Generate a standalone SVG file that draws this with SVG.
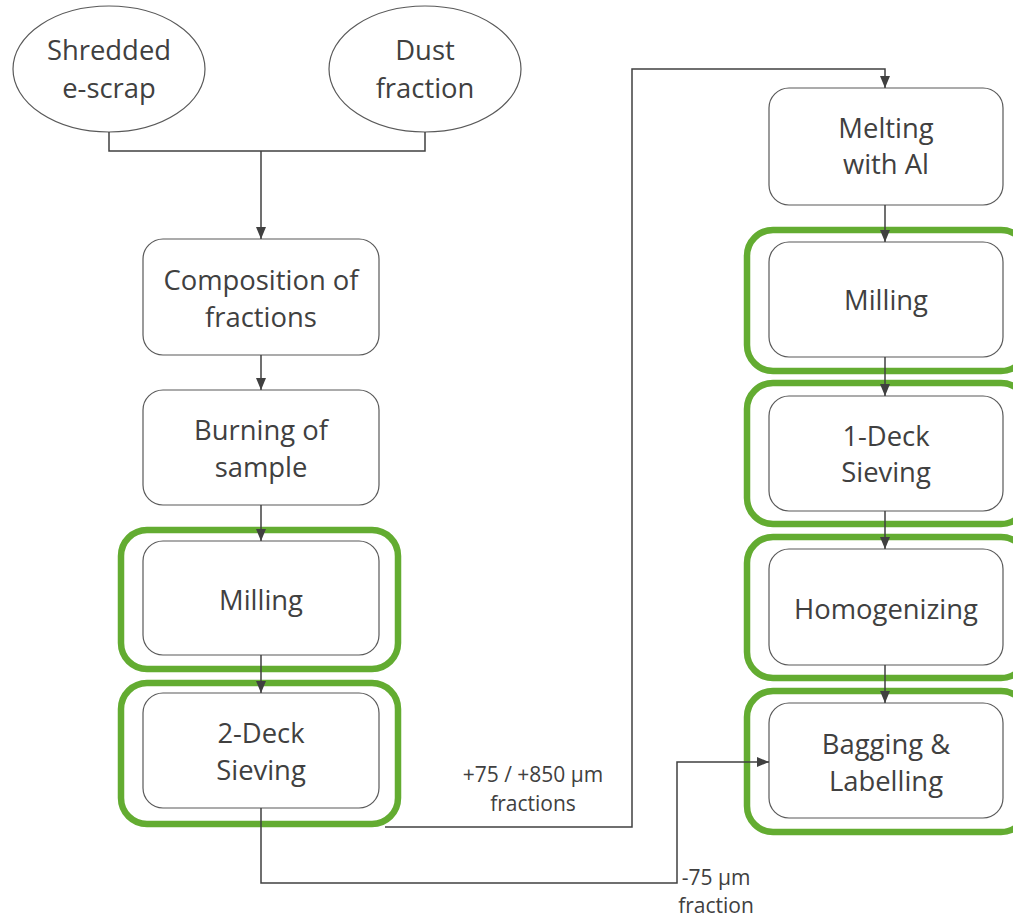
<svg xmlns="http://www.w3.org/2000/svg" width="1013" height="917" viewBox="0 0 1013 917">
<defs>
<marker id="arr" viewBox="0 0 12 10" refX="12" refY="5" markerWidth="12" markerHeight="10" markerUnits="userSpaceOnUse" orient="auto">
<path d="M0,0 L12,5 L0,10 Z" fill="#404040"/>
</marker>
<style>
.box{fill:#fff;stroke:#595959;stroke-width:1.2}
.hl{fill:none;stroke:#63AC31;stroke-width:6.5}
.t{font-family:"Open Sans","Liberation Sans",sans-serif;font-size:27.4px;fill:#404040;text-anchor:middle}
.lb{font-family:"Open Sans","Liberation Sans",sans-serif;font-size:21px;fill:#404040;text-anchor:middle}
.c{fill:none;stroke:#404040;stroke-width:1.5}
</style>
</defs>
<rect width="1013" height="917" fill="#fff"/>

<g id="n-shredded"><ellipse class="box" cx="109" cy="69" rx="96" ry="63"/><text class="t" x="109" y="60">Shredded</text><text class="t" x="109" y="98">e-scrap</text></g>
<g id="n-dust"><ellipse class="box" cx="425" cy="69" rx="96" ry="63"/><text class="t" x="425" y="60">Dust</text><text class="t" x="425" y="98">fraction</text></g>
<g id="n-composition"><rect class="box" x="143" y="239" width="236" height="116" rx="20"/><text class="t" x="261" y="290">Composition of</text><text class="t" x="261" y="327">fractions</text></g>
<g id="n-burning"><rect class="box" x="143" y="390" width="236" height="115" rx="20"/><text class="t" x="261" y="440">Burning of</text><text class="t" x="261" y="477">sample</text></g>
<g id="n-milling1"><rect class="hl" x="121" y="530" width="277" height="139" rx="26"/><rect class="box" x="143" y="541" width="236" height="114" rx="20"/><text class="t" x="261" y="610">Milling</text></g>
<g id="n-sieving2"><rect class="hl" x="121" y="683" width="277" height="141" rx="26"/><rect class="box" x="143" y="693" width="236" height="115" rx="20"/><text class="t" x="261" y="743">2-Deck</text><text class="t" x="261" y="780">Sieving</text></g>
<g id="n-melting"><rect class="box" x="769" y="88" width="234" height="117" rx="20"/><text class="t" x="886" y="138">Melting</text><text class="t" x="886" y="174">with Al</text></g>
<g id="n-milling2"><rect class="hl" x="747" y="230" width="280" height="141" rx="26"/><rect class="box" x="769" y="242" width="234" height="115" rx="20"/><text class="t" x="886" y="310">Milling</text></g>
<g id="n-sieving1"><rect class="hl" x="747" y="383" width="280" height="141" rx="26"/><rect class="box" x="769" y="396" width="234" height="115" rx="20"/><text class="t" x="886" y="446">1-Deck</text><text class="t" x="886" y="482">Sieving</text></g>
<g id="n-homog"><rect class="hl" x="747" y="537" width="280" height="141" rx="26"/><rect class="box" x="769" y="549" width="234" height="116" rx="20"/><text class="t" x="886" y="619">Homogenizing</text></g>
<g id="n-bagging"><rect class="hl" x="747" y="691" width="280" height="141" rx="26"/><rect class="box" x="769" y="703" width="234" height="115" rx="20"/><text class="t" x="886" y="754">Bagging &amp;</text><text class="t" x="886" y="791">Labelling</text></g>

<g id="connectors">
<path class="c" d="M109,132 V151 H425 V132"/>
<path class="c" d="M261,151 V239" marker-end="url(#arr)"/>
<path class="c" d="M261,355 V390" marker-end="url(#arr)"/>
<path class="c" d="M261,505 V541" marker-end="url(#arr)"/>
<path class="c" d="M261,655 V693" marker-end="url(#arr)"/>
<path class="c" d="M261,808 V883 H677 V762 H769" marker-end="url(#arr)"/>
<path class="c" d="M385,827 H632 V69 H885 V88" marker-end="url(#arr)"/>
<path class="c" d="M885,205 V242" marker-end="url(#arr)"/>
<path class="c" d="M885,357 V396" marker-end="url(#arr)"/>
<path class="c" d="M885,511 V549" marker-end="url(#arr)"/>
<path class="c" d="M885,665 V703" marker-end="url(#arr)"/>
<text class="lb" x="533" y="782">+75 / +850 µm</text>
<text class="lb" x="533" y="811">fractions</text>
<text class="lb" x="716" y="885">-75 µm</text>
<text class="lb" x="716" y="913">fraction</text>
</g>
</svg>
